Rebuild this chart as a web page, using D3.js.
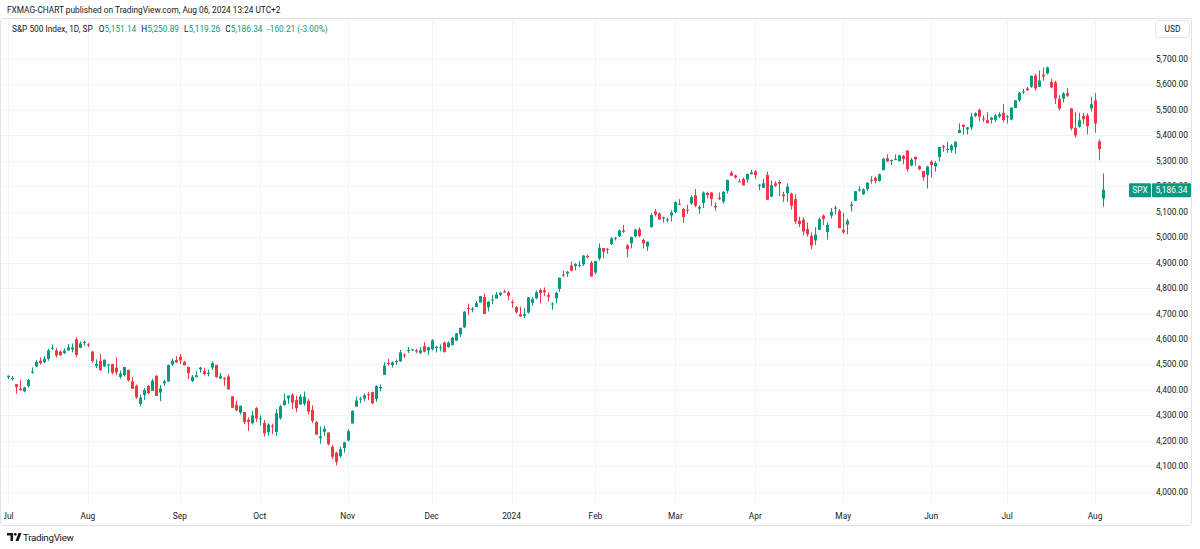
<!DOCTYPE html>
<html><head><meta charset="utf-8">
<script src="https://cdn.jsdelivr.net/npm/d3@7"></script>
<style>
html,body{margin:0;padding:0;background:#fff;}
svg{display:block;font-family:Roboto,"Noto Sans",sans-serif;}
</style></head>
<body><svg id="c" width="1200" height="549"></svg>
<script>
// ---- DATA (trading days per month, and OHLC series) ----
const monthKeys = ["2023-07","2023-08","2023-09","2023-10","2023-11","2023-12","2024-01","2024-02","2024-03","2024-04","2024-05","2024-06","2024-07","2024-08"];
const monthDays = [
 [3,5,6,7,10,11,12,13,14,17,18,19,20,21,24,25,26,27,28,31],
 [1,2,3,4,7,8,9,10,11,14,15,16,17,18,21,22,23,24,25,28,29,30,31],
 [1,5,6,7,8,11,12,13,14,15,18,19,20,21,22,25,26,27,28,29],
 [2,3,4,5,6,9,10,11,12,13,16,17,18,19,20,23,24,25,26,27,30,31],
 [1,2,3,6,7,8,9,10,13,14,15,16,17,20,21,22,24,27,28,29,30],
 [1,4,5,6,7,8,11,12,13,14,15,18,19,20,21,22,26,27,28,29],
 [2,3,4,5,8,9,10,11,12,16,17,18,19,22,23,24,25,26,29,30,31],
 [1,2,5,6,7,8,9,12,13,14,15,16,20,21,22,23,26,27,28,29],
 [1,4,5,6,7,8,11,12,13,14,15,18,19,20,21,22,25,26,27,28],
 [1,2,3,4,5,8,9,10,11,12,15,16,17,18,19,22,23,24,25,26,29,30],
 [1,2,3,6,7,8,9,10,13,14,15,16,17,20,21,22,23,24,28,29,30,31],
 [3,4,5,6,7,10,11,12,13,14,17,18,20,21,24,25,26,27,28],
 [1,2,3,5,8,9,10,11,12,15,16,17,18,19,22,23,24,25,26,29,30,31],
 [1,2,5]
];
const opens = [
 4450.48,4442.04,4422.62,4404.54,4394.23,4415.55,4467.69,4491.50,4514.61,4508.86,4521.78,4563.87,4554.38,4550.16,4543.39,4555.19,4558.96,4598.26,4565.75,4584.82,
 4578.83,4550.93,4494.27,4513.96,4491.58,4498.03,4501.57,4487.16,4450.69,4458.13,4478.87,4433.79,4416.32,4344.88,4380.28,4415.33,4396.44,4455.16,4389.38,4426.03,4432.75,4500.34,4517.01,
 4530.60,4510.06,4490.35,4434.55,4451.30,4480.98,4473.27,4462.65,4487.78,4497.98,4445.13,4445.41,4452.81,4374.36,4341.74,4310.62,4312.88,4282.63,4269.65,4328.18,
 4284.52,4269.75,4233.83,4259.31,4234.79,4289.02,4339.75,4366.59,4380.94,4360.49,4342.37,4345.23,4357.35,4321.36,4273.85,4210.40,4235.79,4232.42,4175.99,4152.93,4139.39,4171.33,
 4201.27,4268.26,4334.23,4364.27,4366.21,4384.37,4391.41,4364.15,4406.66,4458.97,4505.30,4497.08,4509.55,4511.70,4538.77,4553.04,4555.84,4554.86,4545.55,4571.84,4554.87,
 4559.43,4564.37,4564.37,4586.23,4568.84,4576.20,4593.39,4618.30,4646.20,4721.04,4714.23,4725.58,4743.72,4764.73,4724.29,4753.92,4758.86,4773.45,4786.44,4782.88,
 4745.20,4725.07,4697.42,4690.57,4703.70,4741.93,4759.94,4792.13,4791.18,4772.35,4739.13,4760.10,4796.28,4853.42,4856.80,4888.56,4886.66,4888.91,4892.95,4925.89,4899.19,
 4861.11,4916.06,4957.19,4950.16,4973.05,4995.16,5004.17,5026.83,4967.94,4976.44,5003.14,5031.13,4989.32,4963.03,5038.83,5100.92,5093.00,5074.60,5067.20,5085.36,
 5098.51,5130.99,5110.52,5108.03,5132.38,5164.46,5111.96,5134.30,5173.49,5175.14,5123.31,5154.77,5139.09,5181.69,5253.43,5242.48,5219.52,5228.85,5226.31,5248.03,
 5257.97,5204.29,5194.37,5244.05,5158.95,5211.37,5217.03,5167.88,5172.95,5171.51,5149.67,5064.59,5068.97,5031.52,5005.44,4987.33,5028.85,5084.86,5019.88,5084.65,5114.13,5103.78,
 5029.03,5049.32,5122.78,5142.42,5187.20,5168.98,5189.03,5225.49,5233.08,5221.10,5263.26,5310.07,5303.10,5305.35,5298.69,5319.28,5340.26,5281.45,5315.91,5278.73,5259.77,5243.21,
 5297.15,5278.24,5314.48,5357.80,5343.81,5341.22,5353.00,5409.13,5441.93,5424.08,5431.11,5476.15,5499.99,5466.77,5459.58,5460.73,5460.71,5473.59,5488.48,
 5471.08,5461.84,5507.44,5537.91,5572.75,5584.24,5591.26,5635.21,5590.76,5638.16,5644.09,5610.07,5608.56,5543.37,5544.04,5565.30,5505.84,5428.70,5433.67,5476.55,5478.73,5505.59,
 5537.84,5376.63,5151.14
];
const highs = [
 4456.46,4454.06,4422.62,4440.39,4412.60,4443.64,4488.34,4517.38,4527.76,4532.85,4562.30,4578.43,4564.74,4555.00,4563.41,4580.62,4582.47,4607.07,4590.16,4594.22,
 4584.62,4550.93,4519.49,4540.34,4519.84,4503.31,4502.44,4527.37,4476.23,4490.33,4478.87,4449.95,4421.17,4381.82,4407.55,4418.59,4443.18,4458.30,4418.46,4439.56,4500.14,4521.65,4532.26,
 4541.25,4514.29,4490.35,4457.81,4473.53,4490.77,4487.11,4479.39,4511.99,4497.98,4466.36,4449.85,4461.03,4375.70,4357.40,4338.51,4313.01,4292.07,4317.27,4333.15,
 4300.58,4281.15,4268.50,4267.13,4324.10,4341.73,4385.46,4378.64,4385.85,4377.10,4383.33,4393.57,4364.20,4339.54,4276.56,4255.84,4259.38,4232.42,4183.60,4156.70,4177.47,4195.55,
 4245.64,4319.72,4373.62,4372.21,4386.26,4391.20,4393.40,4418.03,4421.76,4508.67,4521.17,4511.99,4520.12,4557.11,4542.14,4568.43,4560.31,4561.04,4568.14,4587.64,4569.89,
 4599.39,4572.37,4578.56,4590.74,4590.92,4609.23,4623.00,4643.93,4709.69,4738.57,4725.53,4749.52,4768.69,4778.01,4748.71,4772.94,4784.72,4785.39,4793.30,4788.43,
 4754.33,4729.29,4726.78,4721.49,4764.54,4765.47,4790.80,4798.50,4802.40,4782.34,4744.23,4785.79,4842.07,4868.41,4866.48,4903.68,4898.15,4906.69,4929.31,4931.09,4906.75,
 4906.97,4975.29,4957.19,4957.77,4999.89,5000.40,5030.06,5048.39,4971.30,5002.52,5032.72,5038.70,4993.71,4983.21,5094.39,5111.06,5097.66,5080.69,5077.37,5104.99,
 5140.33,5149.67,5114.54,5127.97,5165.62,5189.26,5124.66,5179.87,5179.14,5176.85,5136.86,5175.60,5180.31,5226.19,5261.10,5246.09,5229.09,5235.16,5249.26,5264.85,
 5263.95,5208.34,5228.75,5256.59,5222.18,5219.57,5224.81,5178.43,5211.78,5175.03,5168.43,5079.84,5077.96,5056.66,5019.02,5038.84,5076.12,5089.48,5057.75,5114.62,5123.49,5110.83,
 5096.12,5073.21,5139.12,5181.00,5200.23,5191.95,5215.30,5239.66,5237.26,5250.37,5311.76,5325.49,5305.45,5325.32,5324.32,5323.18,5341.88,5311.65,5315.91,5282.27,5260.21,5280.33,
 5302.11,5298.80,5354.16,5362.35,5375.08,5365.79,5375.95,5447.25,5441.93,5432.39,5488.50,5490.38,5505.53,5478.31,5490.66,5472.88,5483.14,5490.81,5523.64,
 5479.55,5509.69,5539.27,5570.33,5583.11,5590.75,5635.39,5642.45,5655.56,5666.94,5669.67,5622.49,5614.05,5557.50,5570.36,5585.34,5508.04,5491.59,5488.32,5487.74,5487.74,5551.51,
 5566.16,5383.89,5250.89
];
const lows = [
 4442.29,4436.61,4385.05,4397.40,4389.92,4408.46,4463.23,4489.36,4499.56,4504.90,4514.59,4557.48,4527.56,4532.91,4541.29,4552.42,4547.58,4528.56,4564.01,4573.14,
 4567.53,4505.75,4485.54,4474.55,4491.15,4464.39,4461.33,4457.92,4443.98,4453.44,4432.19,4403.55,4364.83,4335.31,4360.30,4382.77,4396.44,4375.55,4356.29,4414.98,4431.68,4493.59,4507.39,
 4501.35,4496.01,4442.38,4430.46,4448.38,4467.89,4456.83,4453.52,4478.69,4447.21,4442.11,4416.61,4401.38,4329.17,4316.49,4302.70,4265.98,4238.63,4264.38,4274.86,
 4260.21,4216.45,4220.48,4225.91,4219.55,4283.79,4339.64,4345.34,4325.43,4311.97,4342.37,4337.54,4303.84,4269.69,4223.03,4189.22,4219.43,4181.42,4127.90,4103.78,4132.94,4153.12,
 4197.74,4268.26,4334.23,4347.53,4355.41,4359.76,4343.94,4353.34,4393.82,4458.97,4495.31,4487.83,4499.66,4510.36,4525.51,4545.05,4552.80,4544.71,4540.51,4547.15,4537.24,
 4554.71,4546.72,4551.68,4546.50,4565.22,4574.06,4593.39,4608.09,4643.23,4694.34,4704.69,4725.58,4743.72,4697.82,4708.35,4736.77,4758.45,4768.90,4780.98,4751.99,
 4722.67,4699.71,4687.53,4682.11,4699.82,4730.35,4756.20,4739.58,4768.98,4747.12,4714.82,4740.57,4785.87,4844.05,4844.37,4865.94,4869.34,4881.47,4887.40,4916.27,4845.15,
 4853.52,4907.99,4918.09,4934.88,4969.05,4987.09,5000.34,5016.83,4920.31,4956.34,4999.44,4999.52,4955.02,4946.00,5038.83,5081.46,5068.91,5057.29,5058.35,5061.89,
 5094.16,5127.18,5056.82,5092.22,5128.21,5117.50,5091.14,5114.48,5151.88,5123.30,5104.35,5145.47,5131.59,5171.55,5240.09,5229.87,5216.09,5203.42,5213.92,5245.82,
 5229.20,5184.05,5194.37,5146.06,5157.21,5197.35,5160.78,5138.70,5138.77,5107.94,5052.47,5039.83,5007.25,5001.89,4953.56,4969.40,5027.96,5047.02,4990.58,5073.14,5088.65,5035.31,
 5013.45,5011.05,5101.22,5142.42,5178.96,5165.86,5180.41,5209.68,5211.16,5217.98,5263.26,5296.19,5283.59,5302.40,5297.87,5286.01,5256.93,5278.39,5280.89,5262.70,5222.10,5191.68,
 5234.32,5257.63,5297.64,5335.36,5331.33,5331.52,5327.25,5409.13,5402.51,5403.75,5420.40,5471.32,5455.56,5452.03,5447.59,5446.56,5451.87,5467.54,5451.12,
 5446.53,5458.43,5507.42,5531.63,5562.51,5574.57,5586.44,5576.53,5590.44,5614.75,5639.02,5584.81,5522.81,5497.04,5529.04,5550.90,5419.98,5390.95,5430.70,5444.44,5403.85,5493.75,
 5410.42,5302.03,5119.26
];
const closes = [
 4455.59,4446.82,4411.59,4398.95,4409.53,4439.26,4472.16,4510.04,4505.42,4522.79,4554.98,4565.72,4534.87,4536.34,4554.64,4567.46,4566.75,4537.41,4582.23,4588.96,
 4576.73,4513.39,4501.89,4478.03,4518.44,4499.38,4467.71,4468.83,4464.05,4489.72,4437.86,4404.33,4370.36,4369.71,4399.77,4387.55,4436.01,4376.31,4405.71,4433.31,4497.63,4514.87,4507.66,
 4515.77,4496.83,4465.48,4451.14,4457.49,4487.46,4461.90,4467.44,4505.10,4450.32,4453.53,4443.95,4402.20,4330.00,4320.06,4337.44,4273.53,4274.51,4299.70,4288.05,
 4288.39,4229.45,4263.75,4258.19,4308.50,4335.66,4358.24,4376.95,4349.61,4327.78,4373.63,4373.20,4314.60,4278.00,4224.16,4217.04,4247.68,4186.77,4137.23,4117.37,4166.82,4193.80,
 4237.86,4317.78,4358.34,4365.98,4378.38,4382.78,4347.35,4415.24,4411.55,4495.70,4502.88,4508.24,4514.02,4547.38,4538.19,4556.62,4559.34,4550.43,4554.89,4550.58,4567.80,
 4594.63,4569.78,4567.18,4549.34,4585.59,4604.37,4622.44,4643.70,4707.09,4719.55,4719.19,4740.56,4768.37,4698.35,4746.75,4754.63,4774.75,4781.58,4783.35,4769.83,
 4742.83,4704.81,4688.68,4697.24,4763.54,4756.50,4783.45,4780.24,4783.83,4765.98,4739.21,4780.94,4839.81,4850.43,4864.60,4868.55,4894.16,4890.97,4927.93,4924.97,4845.65,
 4906.19,4958.61,4942.81,4954.23,4995.06,4997.91,5026.61,5021.84,4953.17,5000.62,5029.73,5005.57,4975.51,4981.80,5087.03,5088.80,5069.53,5078.18,5069.76,5096.27,
 5137.08,5130.95,5078.65,5104.76,5157.36,5123.69,5117.94,5175.27,5165.31,5150.48,5117.09,5149.42,5178.51,5224.62,5241.53,5234.18,5218.19,5203.58,5248.49,5254.35,
 5243.77,5205.81,5211.49,5147.21,5204.34,5202.39,5209.91,5160.64,5199.06,5123.41,5061.82,5051.41,5022.21,5011.12,4967.23,5010.60,5070.55,5071.63,5048.42,5099.96,5116.17,5035.69,
 5018.39,5064.20,5127.79,5180.74,5187.70,5187.67,5214.08,5222.68,5221.42,5246.68,5308.15,5297.10,5303.27,5308.13,5321.41,5307.01,5267.84,5304.72,5306.04,5266.95,5235.48,5277.51,
 5283.40,5291.34,5354.03,5352.96,5346.99,5360.79,5375.32,5421.03,5433.74,5431.60,5473.23,5487.03,5473.17,5464.62,5447.87,5469.30,5477.90,5482.87,5460.48,
 5475.09,5509.01,5537.02,5567.19,5572.85,5576.98,5633.91,5584.54,5615.35,5631.22,5667.20,5588.27,5544.59,5505.00,5564.41,5555.74,5427.13,5399.22,5459.10,5463.54,5436.44,5522.30,
 5446.68,5346.56,5186.34
];
const priceTicks = [4000,4100,4200,4300,4400,4500,4600,4700,4800,4900,5000,5100,5200,5300,5400,5500,5600,5700];
const legendTitle = "S&P 500 Index, 1D, SP";
const legendVals = [["O","5,151.14"],["H","5,250.89"],["L","5,119.26"],["C","5,186.34"]];
const legendChange = "-160.21 (-3.00%)";
const headerText = "FXMAG-CHART published on TradingView.com, Aug 06, 2024 13:24 UTC+2";

// ---- BUILD ----
const dates = [];
monthKeys.forEach((m,i)=>monthDays[i].forEach(d=>dates.push(m+"-"+String(d).padStart(2,"0"))));
const data = dates.map((d,i)=>({date:d,o:opens[i],h:highs[i],l:lows[i],c:closes[i]}));

const UP="#089981", DN="#F23645", TXT="#131722", GRID="#f0f3fa";
const FS=8.4;
const svg = d3.select("#c");
const paneL=1, paneT=18, paneB=505;

const x = d3.scalePoint().domain(dates).range([8,1103]);
const y = d3.scaleLinear().domain([4000,5700]).range([491.7,59]);

// outer frame
svg.append("rect").attr("x",0.5).attr("y",paneT+0.5).attr("width",1191).attr("height",525-paneT)
  .attr("fill","none").attr("stroke","#e0e3eb").attr("rx",2);

// header
svg.append("text").attr("x",7).attr("y",13).attr("font-size",8.3).attr("fill",TXT).text(headerText);

// gridlines
const gH = svg.append("g");
gH.selectAll("line").data(priceTicks).join("line")
  .attr("x1",paneL).attr("x2",1152).attr("y1",d=>Math.round(y(d))+0.5).attr("y2",d=>Math.round(y(d))+0.5)
  .attr("stroke",GRID);
const monthStarts = monthKeys.map(m=>dates.find(d=>d.startsWith(m)));
const gV = svg.append("g");
gV.selectAll("line").data(monthStarts).join("line")
  .attr("x1",d=>Math.round(x(d))+0.5).attr("x2",d=>Math.round(x(d))+0.5).attr("y1",paneT+1).attr("y2",paneB)
  .attr("stroke",GRID);

// candles
const gC = svg.append("g");
const cg = gC.selectAll("g").data(data).join("g");
cg.append("rect").attr("x",d=>Math.round(x(d.date))).attr("width",1)
  .attr("y",d=>y(d.h)).attr("height",d=>Math.max(1,y(d.l)-y(d.h)))
  .attr("fill",d=>d.c>=d.o?UP:DN);
cg.append("rect").attr("x",d=>Math.round(x(d.date))-1).attr("width",3)
  .attr("y",d=>y(Math.max(d.o,d.c))).attr("height",d=>Math.max(1,Math.abs(y(d.o)-y(d.c))))
  .attr("fill",d=>d.c>=d.o?UP:DN);

// price axis labels (the 5,200 label sits mostly behind the last-price tag, as in the reference)
const fmt = d3.format(",.2f");
svg.append("g").selectAll("text").data(priceTicks.filter(d=>d!==5200)).join("text")
  .attr("x",1188).attr("y",d=>y(d)+3).attr("text-anchor","end").attr("font-size",FS).attr("fill",TXT)
  .text(d=>fmt(d));
svg.append("clipPath").attr("id","hclip").append("rect").attr("x",1150).attr("y",175).attr("width",45).attr("height",8);
svg.append("text").attr("clip-path","url(#hclip)").attr("x",1188).attr("y",y(5200)+3).attr("text-anchor","end")
  .attr("font-size",FS).attr("fill",TXT).text(fmt(5200));

// USD box
svg.append("rect").attr("x",1155.5).attr("y",20.5).attr("width",34).attr("height",17).attr("rx",3)
  .attr("fill","#fff").attr("stroke","#e0e3eb");
svg.append("text").attr("x",1172.5).attr("y",32).attr("text-anchor","middle").attr("font-size",FS).attr("fill",TXT).text("USD");

// last price tag
const last = data[data.length-1];
const ly = y(last.c);
svg.append("rect").attr("x",1129).attr("y",ly-6.5).attr("width",22).attr("height",14).attr("rx",1).attr("fill",UP);
svg.append("rect").attr("x",1152).attr("y",ly-6.5).attr("width",39).attr("height",14).attr("rx",1).attr("fill",UP);
svg.append("text").attr("x",1140).attr("y",ly+3.5).attr("text-anchor","middle").attr("font-size",FS).attr("fill","#fff").text("SPX");
svg.append("text").attr("x",1171.5).attr("y",ly+3.5).attr("text-anchor","middle").attr("font-size",FS).attr("fill","#fff").text(fmt(last.c));

// time axis
svg.append("clipPath").attr("id","tclip").append("rect").attr("x",4).attr("y",505).attr("width",1150).attr("height",20);
svg.append("g").attr("clip-path","url(#tclip)").selectAll("text").data(monthStarts).join("text")
  .attr("x",d=>x(d)).attr("y",519).attr("text-anchor","middle").attr("font-size",FS).attr("fill",TXT)
  .text(d=>{const dt=d3.timeParse("%Y-%m-%d")(d); return dt.getMonth()===0?String(dt.getFullYear()):d3.timeFormat("%b")(dt);});

// legend
const lg = svg.append("text").attr("x",12).attr("y",32).attr("font-size",8.3).attr("fill",TXT);
lg.append("tspan").text(legendTitle);
legendVals.forEach(([k,v],i)=>{
  lg.append("tspan").attr("dx",i===0?6:5).attr("fill",TXT).text(k);
  lg.append("tspan").attr("fill",UP).text(v);
});
lg.append("tspan").attr("dx",5).attr("fill",UP).text(legendChange);

// TradingView logo
const logo = svg.append("g").attr("transform","translate(7,533)");
logo.append("path").attr("d","M0 0 H6 V8 H3.5 V2.5 H0 Z").attr("fill",TXT);
logo.append("circle").attr("cx",8.2).attr("cy",1.3).attr("r",1.4).attr("fill",TXT);
logo.append("path").attr("d","M8.5 8 L11.5 0 H14.5 L11.5 8 Z").attr("fill",TXT);
svg.append("text").attr("x",23).attr("y",541).attr("font-size",9.8).attr("fill",TXT).attr("letter-spacing",-0.3).text("TradingView");
</script></body></html>
